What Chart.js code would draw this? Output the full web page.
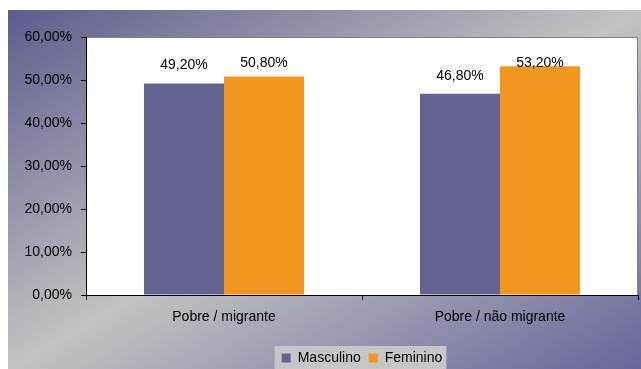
<!DOCTYPE html>
<html>
<head>
<meta charset="utf-8">
<script src="https://cdn.jsdelivr.net/npm/chart.js@4"></script>
<style>
  html, body { margin: 0; padding: 0; background: #fff; }
  #wrap {
    position: absolute; left: 8px; top: 10px; width: 633px; height: 359px;
    background: linear-gradient(to bottom right, #5c5c8c 0%, #c3c3c3 50%, #66669a 100%);
  }
</style>
</head>
<body>
<div id="wrap"><canvas id="genderChart" width="633" height="359"></canvas></div>
<script>
const categories = ['Pobre / migrante', 'Pobre / não migrante'];
const masculino = [49.2, 46.8];
const feminino = [50.8, 53.2];
const seriesNames = ['Masculino', 'Feminino'];

const fmt = v => v.toFixed(2).replace('.', ',') + '%';
const FONT = 'Liberation Sans, Arial, sans-serif';

// white plot area with grey top/right edge
const plotBg = {
    id: 'plotBg',
    afterLayout(chart) {
        // centre the legend under the plot area, not the whole canvas
        const lg = chart.legend, a = chart.chartArea;
        lg.left = a.left;
        lg.right = a.right;
        lg.width = a.right - a.left;
    },
    beforeDraw(chart) {
        const { ctx, chartArea: a } = chart;
        ctx.save();
        ctx.fillStyle = '#fff';
        ctx.fillRect(a.left, a.top, a.right - a.left, a.bottom - a.top);
        ctx.strokeStyle = '#808080';
        ctx.lineWidth = 1;
        ctx.beginPath();
        ctx.moveTo(a.left, a.top + 0.5);
        ctx.lineTo(a.right - 0.5, a.top + 0.5);
        ctx.lineTo(a.right - 0.5, a.bottom);
        ctx.stroke();
        ctx.restore();
    }
};

// light box behind the legend
const legendBg = {
    id: 'legendBg',
    beforeDraw(chart) {
        const boxes = chart.legend.legendHitBoxes;
        if (!boxes || !boxes.length) return;
        const left = Math.min(...boxes.map(b => b.left)) - 7;
        const right = Math.max(...boxes.map(b => b.left + b.width)) + 4;
        const top = Math.min(...boxes.map(b => b.top)) - 5;
        const ctx = chart.ctx;
        ctx.save();
        ctx.fillStyle = '#c6c6c6';
        ctx.fillRect(left, top, right - left, 30);
        ctx.restore();
    }
};

// value labels above the bars
const valueLabels = {
    id: 'valueLabels',
    afterDatasetsDraw(chart) {
        const ctx = chart.ctx;
        ctx.save();
        ctx.font = '14px ' + FONT;
        ctx.fillStyle = '#000';
        ctx.textAlign = 'center';
        ctx.textBaseline = 'middle';
        chart.data.datasets.forEach((ds, i) => {
            chart.getDatasetMeta(i).data.forEach((bar, j) => {
                const y = Math.max(bar.y - 18, chart.chartArea.top + 26);
                ctx.fillText(fmt(ds.data[j]), bar.x, y);
            });
        });
        ctx.restore();
    }
};

new Chart(document.getElementById('genderChart'), {
    type: 'bar',
    data: {
        labels: categories,
        datasets: [{
            label: seriesNames[0],
            data: masculino,
            backgroundColor: '#636391'
        }, {
            label: seriesNames[1],
            data: feminino,
            backgroundColor: '#f3961f'
        }]
    },
    options: {
        responsive: false,
        animation: false,
        devicePixelRatio: 1,
        categoryPercentage: 0.58,
        barPercentage: 1.0,
        layout: { padding: { top: 27, right: 3, left: 0, bottom: -6 } },
        plugins: {
            tooltip: { enabled: false },
            legend: {
                position: 'bottom',
                labels: {
                    boxWidth: 9,
                    boxHeight: 9,
                    padding: 8,
                    color: '#000',
                    font: { family: FONT, size: 14 }
                }
            }
        },
        scales: {
            x: {
                offset: true,
                afterFit(scale) { scale.height = 48; },
                grid: { offset: true, drawOnChartArea: false, drawTicks: true, tickLength: 5, color: '#000' },
                border: { color: '#000', width: 1 },
                ticks: { color: '#000', padding: 9, font: { family: FONT, size: 14 } }
            },
            y: {
                min: 0,
                max: 60,
                afterFit(scale) { scale.width = 78; },
                grid: { drawOnChartArea: false, drawTicks: true, tickLength: 5, color: '#000' },
                border: { color: '#000', width: 1 },
                ticks: {
                    stepSize: 10,
                    color: '#000',
                    padding: 9,
                    font: { family: FONT, size: 14 },
                    callback: v => fmt(v)
                }
            }
        }
    },
    plugins: [plotBg, legendBg, valueLabels]
});
</script>
</body>
</html>
